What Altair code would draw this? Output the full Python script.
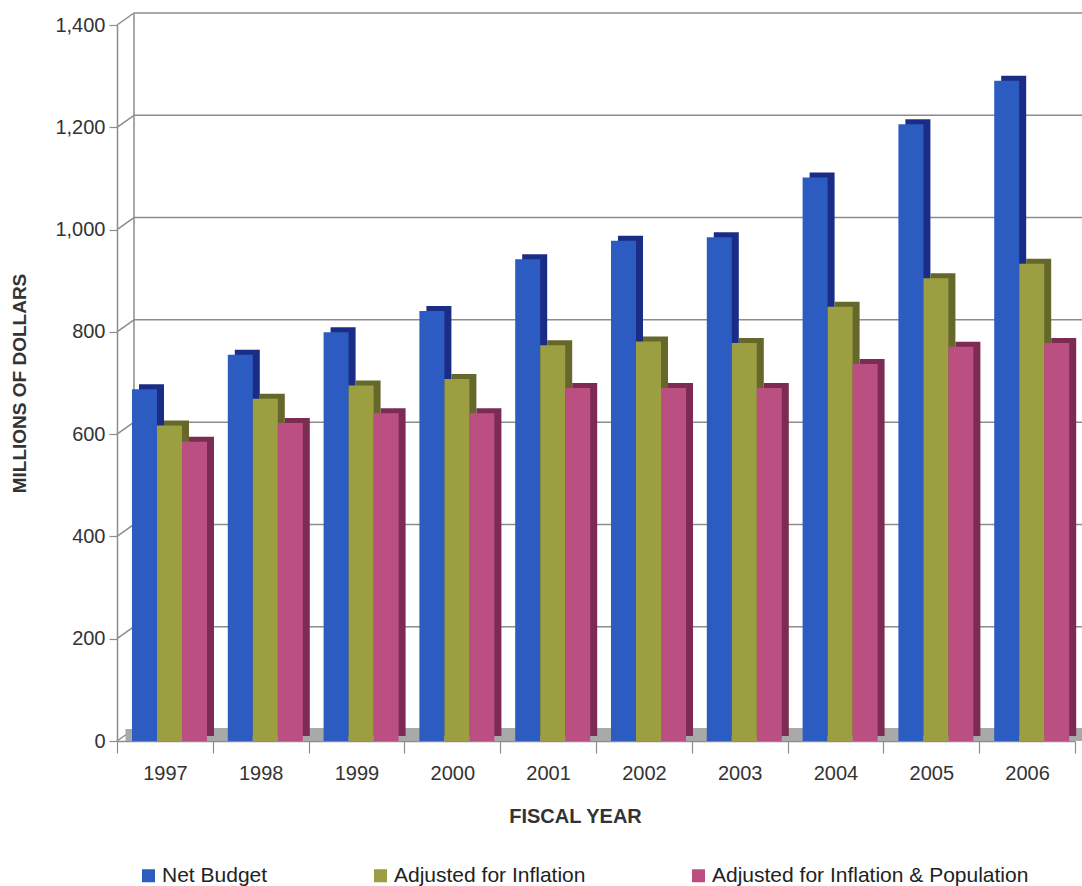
import altair as alt
import pandas as pd

# Fiscal years and budget series (millions of dollars)
years = ["1997", "1998", "1999", "2000", "2001", "2002", "2003", "2004", "2005", "2006"]
net_budget = [688, 755, 799, 841, 942, 978, 985, 1102, 1206, 1291]
adj_inflation = [617, 669, 695, 708, 774, 781, 778, 849, 905, 933]
adj_inflation_pop = [585, 622, 641, 641, 690, 690, 690, 737, 771, 778]

series_names = ["Net Budget", "Adjusted for Inflation", "Adjusted for Inflation & Population"]
face_colors = ["#2c5cc2", "#9c9e42", "#bc4f82"]
side_colors = ["#1b2c86", "#66672a", "#7c2c52"]
y_ticks = [0, 200, 400, 600, 800, 1000, 1200, 1400]

rows = []
for name, vals in zip(series_names, [net_budget, adj_inflation, adj_inflation_pop]):
    for yr, v in zip(years, vals):
        rows.append({"year": yr, "series": name, "value": v})
df = pd.DataFrame(rows)
ticks_df = pd.DataFrame({"value": y_ticks})
one_df = pd.DataFrame({"value": [0]})

W, H = 958, 716
DX, DY = 17, -12          # depth of the back wall
BAR_W, SIDE_X, SIDE_Y = 25, 7, -5
FONT = "Liberation Sans"
GRID = "#8c8c8c"

yscale = alt.Scale(domain=[0, 1400], nice=False, zero=True)
xscale = alt.Scale(domain=years, paddingInner=0, paddingOuter=0)

x_axis = alt.Axis(
    tickBand="extent", tickSize=12, tickColor=GRID, tickWidth=1.2,
    labelPadding=10, labelFontSize=20, labelFont=FONT, labelColor="#333", labelAngle=0,
    domainColor=GRID, domainWidth=1.5,
    title="FISCAL YEAR", titleFont=FONT, titleFontSize=20, titleFontWeight="bold",
    titleColor="#333", titleX=458, titleY=81, titleBaseline="alphabetic", titleAlign="center",
)
y_axis = alt.Axis(
    values=y_ticks, format=",d", tickSize=8, tickColor=GRID, tickWidth=1.2,
    labelPadding=4, labelFontSize=20, labelFont=FONT, labelColor="#333",
    domainColor=GRID, domainWidth=1.5, grid=False,
    title="MILLIONS OF DOLLARS", titleFont=FONT, titleFontSize=19, titleFontWeight="bold",
    titleColor="#333", titleX=-92, titleY=H / 2, titleBaseline="alphabetic", titleAlign="center",
)
legend = alt.Legend(
    orient="none", legendX=21, legendY=840, direction="horizontal", columns=3,
    title=None, symbolType="square", symbolSize=169, symbolStrokeWidth=0,
    labelFontSize=21, labelFont=FONT, labelColor="#222", columnPadding=102,
    labelOffset=3, labelLimit=600,
)

Y = alt.Y("value:Q", scale=yscale, axis=y_axis)
X = alt.X("year:N", sort=years, scale=xscale, axis=x_axis)

# Back wall: gridlines, left edge, and the diagonal connectors to the front axis
back_grid = alt.Chart(ticks_df).mark_rule(color=GRID, strokeWidth=1.5, yOffset=DY).encode(
    x=alt.value(DX), x2=alt.value(W + 7), y=Y,
)
connectors = alt.Chart(ticks_df).mark_rule(color=GRID, strokeWidth=1.5, y2Offset=DY).encode(
    x=alt.value(0), x2=alt.value(DX), y=Y, y2="value:Q",
)
wall_edge = alt.Chart(one_df).mark_rule(color=GRID, strokeWidth=1.5).encode(
    x=alt.value(DX), y=alt.value(DY), y2=alt.value(H + DY),
)
floor = alt.Chart(one_df).mark_rect(color="#a9a9a9").encode(
    x=alt.value(DX / 2), x2=alt.value(W + 7),
    y=alt.value(H + DY), y2=alt.value(H),
)

offsets = [-20.4, 4.6, 29.6]
color = alt.Color("series:N", sort=series_names,
                  scale=alt.Scale(domain=series_names, range=face_colors),
                  legend=legend)

sides, fronts = [], []
for name, side, off in zip(series_names, side_colors, offsets):
    base = alt.Chart(df).transform_filter(alt.datum.series == name)
    sides.append(
        base.mark_bar(width=BAR_W, color=side, xOffset=off + SIDE_X,
                      yOffset=SIDE_Y, y2Offset=SIDE_Y).encode(x=X, y=Y)
    )
    fronts.append(
        base.mark_bar(width=BAR_W, xOffset=off).encode(x=X, y=Y, color=color)
    )

chart = alt.layer(back_grid, connectors, wall_edge, floor, *sides, *fronts).properties(
    width=W, height=H,
    autosize=alt.AutoSizeParams(type="none"),
    padding={"left": 117, "top": 25, "right": 7, "bottom": 145},
    background="white",
).configure_view(stroke=None)

chart.save("out.html", embed_options={"renderer": "svg", "actions": False})
